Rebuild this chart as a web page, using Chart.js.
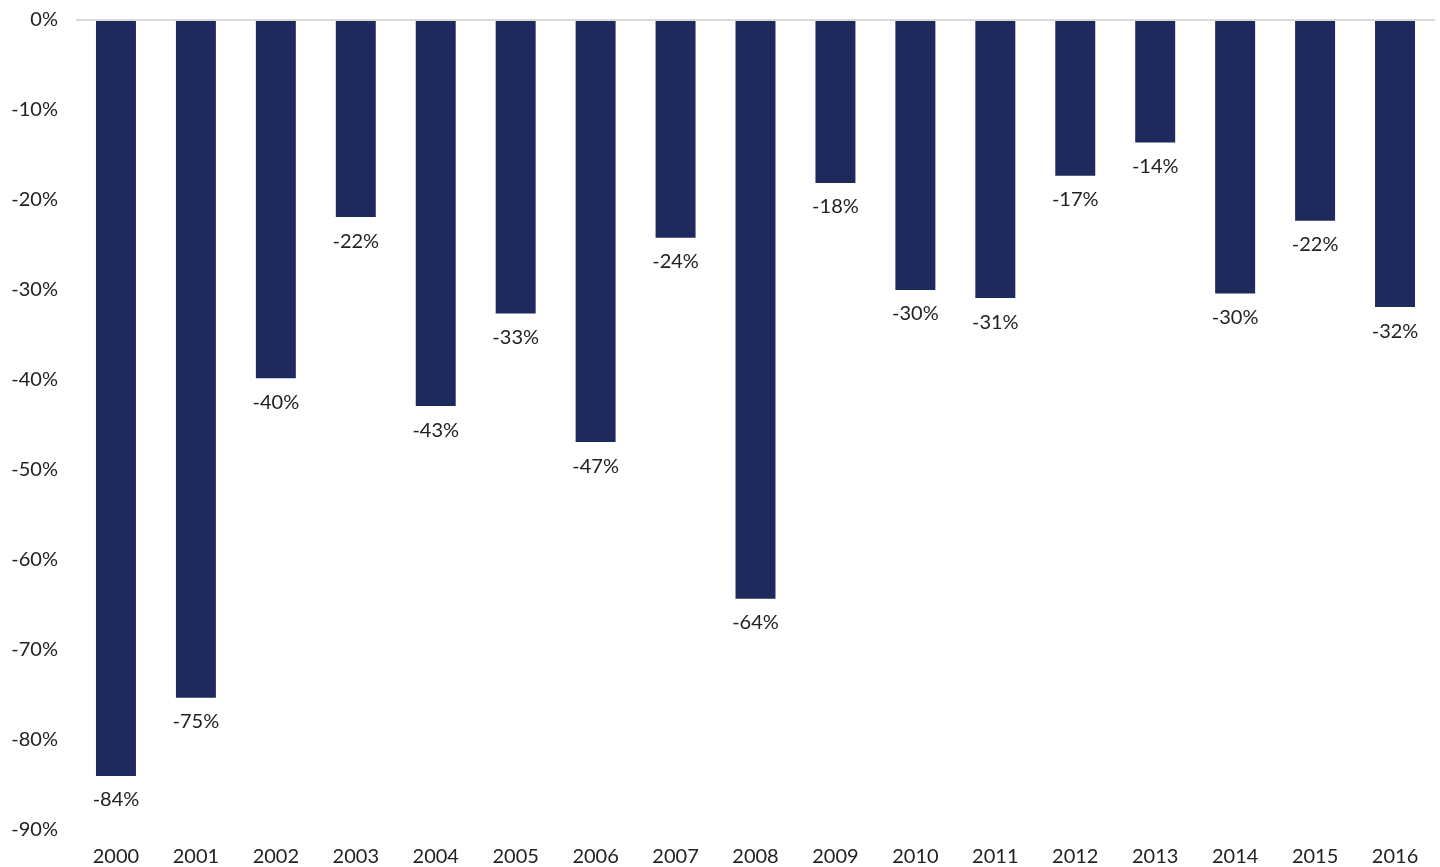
<!DOCTYPE html>
<html>
<head>
<meta charset="utf-8">
<script src="https://cdn.jsdelivr.net/npm/chart.js@4.4.0/dist/chart.umd.min.js"></script>
<style>
  html, body { margin: 0; padding: 0; background: #ffffff; }
  #wrap { width: 1440px; height: 867px; position: relative; }
</style>
</head>
<body>
<div id="wrap"><canvas id="c" width="1440" height="867"></canvas></div>
<script>
const years = ['2000','2001','2002','2003','2004','2005','2006','2007','2008','2009','2010','2011','2012','2013','2014','2015','2016'];
const drawdowns = [-84, -75.3, -39.8, -21.9, -42.9, -32.6, -46.9, -24.2, -64.3, -18.1, -30, -30.9, -17.3, -13.6, -30.4, -22.3, -31.9];
const yTicks = [0, -10, -20, -30, -40, -50, -60, -70, -80, -90];

const FONT = 'Lato, "Noto Sans", sans-serif';
const TEXT = '#222222';

const labelPlugin = {
  id: 'barLabels',
  afterDatasetsDraw(chart) {
    const ctx = chart.ctx;
    const meta = chart.getDatasetMeta(0);
    ctx.save();
    ctx.font = '20px ' + FONT;
    ctx.fillStyle = TEXT;
    ctx.textAlign = 'center';
    ctx.textBaseline = 'middle';
    meta.data.forEach((bar, i) => {
      ctx.fillText(Math.round(drawdowns[i]) + '%', bar.x, bar.y + 24);
    });
    ctx.restore();
  }
};

new Chart(document.getElementById('c'), {
  type: 'bar',
  data: {
    labels: years,
    datasets: [{
      data: drawdowns,
      backgroundColor: '#1f2a5c',
      borderWidth: 0,
      barPercentage: 0.5,
      categoryPercentage: 1.0
    }]
  },
  options: {
    responsive: false,
    animation: false,
    layout: { padding: { top: 20, right: 5, bottom: 0, left: 0 } },
    plugins: { legend: { display: false }, tooltip: { enabled: false } },
    scales: {
      x: {
        grid: { display: false },
        border: { display: false },
        afterFit(scale) { scale.height = 37; },
        ticks: { color: TEXT, font: { family: FONT, size: 20 }, padding: 7, maxRotation: 0 }
      },
      y: {
        min: -90, max: 0,
        afterBuildTicks(scale) { scale.ticks = yTicks.map(v => ({ value: v })); },
        afterFit(scale) { scale.width = 76; scale.paddingTop = 0; scale.paddingBottom = 0; },
        grid: {
          drawTicks: false,
          color: ctx => (ctx.tick && ctx.tick.value === 0) ? '#d9d9d9' : 'rgba(0,0,0,0)',
          lineWidth: 2
        },
        border: { display: false },
        ticks: {
          color: TEXT,
          font: { family: FONT, size: 20 },
          padding: 18,
          callback: v => v + '%'
        }
      }
    }
  },
  plugins: [labelPlugin]
});
</script>
</body>
</html>
